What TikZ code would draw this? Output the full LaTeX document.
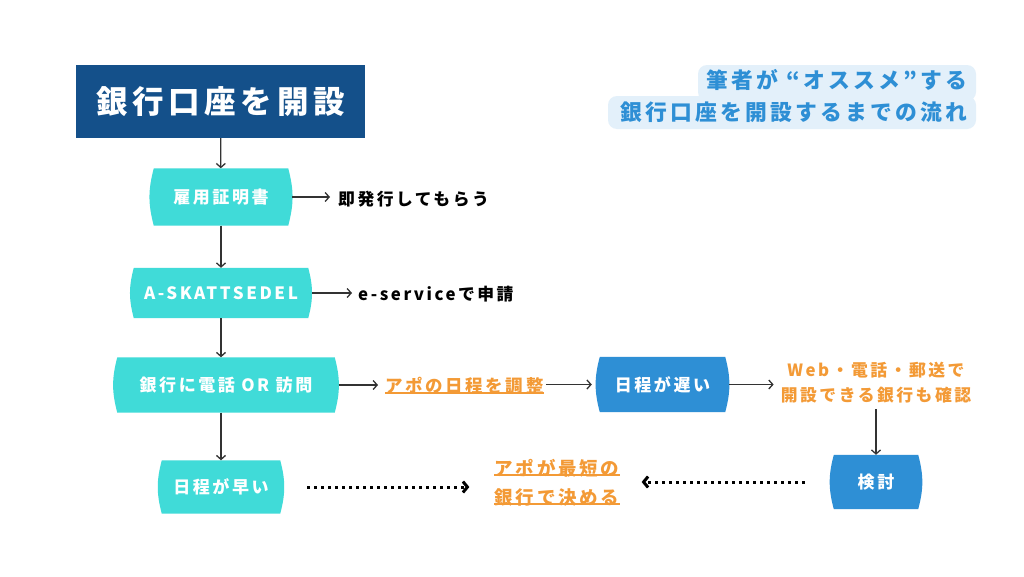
\documentclass[tikz,border=0pt]{standalone}
\usepackage{fontspec}
\setmainfont{Noto Sans CJK JP}[LetterSpace=15]
\usetikzlibrary{arrows.meta,backgrounds}

\definecolor{navy}{HTML}{14508A}
\definecolor{aqua}{HTML}{40DBD8}
\definecolor{sky}{HTML}{2E8FD5}
\definecolor{amber}{HTML}{F39A36}
\definecolor{pale}{HTML}{E3F0FA}
\definecolor{ink}{HTML}{333333}

\tikzset{>={Straight Barb[length=4pt,width=9pt]}}
\tikzset{
  flowbox/.style={inner sep=0pt,text=white,font=\bfseries\fontsize{17}{19}\selectfont},
  note/.style={inner sep=0pt,anchor=west,font=\bfseries\fontsize{16.8}{20}\selectfont},
  tip/.style={inner sep=0pt,text=amber,font=\bfseries\fontsize{17.5}{20}\selectfont},
  link/.style={->,ink,line width=1.3pt},
  jump/.style={-{Straight Barb[length=4.5pt,width=11pt]},line width=3pt,dash pattern=on 3pt off 4pt},
  underl/.style={amber,line width=1.8pt},
}

\begin{document}
\begin{tikzpicture}[x=1pt,y=-1pt]

\useasboundingbox (0,0) rectangle (1024,576);

% title and side note
\node [fill=navy,text=white,minimum width=289pt,minimum height=73pt,inner sep=0pt,
  font=\bfseries\fontsize{31.5}{36}\selectfont] (title) at (220.5,101.5) {銀行口座を開設};

\fill [pale,rounded corners=9pt] (698,65) rectangle (976,101);
\fill [pale,rounded corners=9pt] (608,96) rectangle (976,129);
\node [inner sep=0pt,anchor=east,text=sky,font=\bfseries\fontsize{21.8}{24}\selectfont] (rec1) at (968,80) {筆者が “オススメ”する};
\node [inner sep=0pt,anchor=east,text=sky,font=\bfseries\fontsize{21.8}{24}\selectfont] (rec2) at (968,112) {銀行口座を開設するまでの流れ};

% flow boxes
\node [flowbox,minimum width=142pt,minimum height=57pt] (yoso) at (221,197) {雇用証明書};
\node [flowbox,minimum width=182pt,minimum height=50pt] (skatt) at (221,293) {A-SKATTSEDEL};
\node [flowbox,minimum width=225pt,minimum height=55pt] (visit) at (226,385) {銀行に電話 OR 訪問};
\node [flowbox,minimum width=126pt,minimum height=53pt] (early) at (221,487) {日程が早い};
\node [flowbox,minimum width=133pt,minimum height=55pt] (late) at (662.5,384.5) {日程が遅い};
\node [flowbox,minimum width=92pt,minimum height=54pt] (kento) at (876,482) {検討};

\begin{scope}[on background layer]
\fill [white] (0,0) rectangle (1024,576);
\foreach \n/\c in {yoso/aqua,skatt/aqua,visit/aqua,early/aqua,late/sky,kento/sky}
  \fill [\c] ([xshift=4pt]\n.north west) to[bend right=15] ([xshift=4pt]\n.south west)
    -- ([xshift=-4pt]\n.south east) to[bend right=15] ([xshift=-4pt]\n.north east) -- cycle;
\end{scope}

% notes
\node [note] (issue) at (338,199) {即発行してもらう};
\node [note] (eserv) at (358,294) {e-serviceで申請};
\node [tip,anchor=west] (appo) at (385,386) {アポの日程を調整};
\draw [underl] ([yshift=2pt]appo.south west) -- ([yshift=2pt]appo.south east);
\node [tip,align=center,font=\bfseries\fontsize{16.8}{25}\selectfont] (check) at (876,382.5) {Web・電話・郵送で\\開設できる銀行も確認};
\node [tip,font=\bfseries\fontsize{18.5}{20}\selectfont] (fast1) at (557,468) {アポが最短の};
\node [tip,font=\bfseries\fontsize{18.5}{20}\selectfont] (fast2) at (557,497) {銀行で決める};
\draw [underl] ([yshift=2pt]fast1.south west) -- ([yshift=2pt]fast1.south east);
\draw [underl] ([yshift=2pt]fast2.south west) -- ([yshift=2pt]fast2.south east);

% connectors
\draw [link] (title) -- (yoso);
\draw [link] (yoso) -- (skatt);
\draw [link] (skatt) -- (skatt.south |- visit.north);
\draw [link] (visit.south -| early) -- (early);
\draw [link,shorten >=8pt] (yoso.east) -- (yoso.east -| issue.west);
\draw [link,shorten >=6pt] (skatt.east) -- (skatt.east -| eserv.west);
\draw [link,shorten >=7pt] (visit.east) -- (visit.east -| appo.west);
\draw [link,shorten <=2pt,shorten >=4pt] (appo.east |- late) -- (late.west);
\draw [link,shorten >=7pt] (late.east) -- (late.east -| check.west);
\draw [link,shorten <=6pt] (check.south -| kento) -- (kento.north);

\draw [jump,shorten <=23pt,shorten >=25pt] (early.east) -- (early.east -| fast2.west);
\draw [jump,shorten <=25pt,shorten >=22pt] (kento.west) -- (kento.west -| fast2.east);

\end{tikzpicture}
\end{document}
